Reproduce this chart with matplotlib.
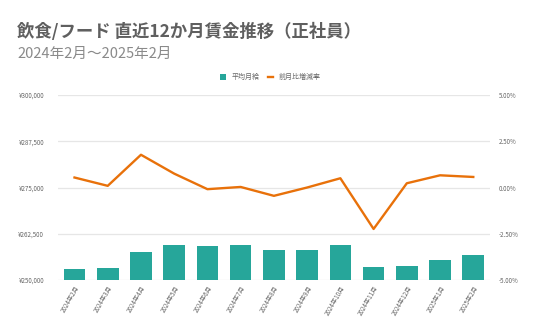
import matplotlib
matplotlib.use("Agg")
import matplotlib.pyplot as plt
from matplotlib.ticker import FuncFormatter
from matplotlib.lines import Line2D
from matplotlib.patches import Patch

plt.rcParams['font.family'] = ['Noto Sans CJK JP', 'DejaVu Sans']

months = ["2024年2月", "2024年3月", "2024年4月", "2024年5月", "2024年6月", "2024年7月",
          "2024年8月", "2024年9月", "2024年10月", "2024年11月", "2024年12月",
          "2025年1月", "2025年2月"]
avg_salary = [253050, 253240, 257650, 259540, 259190, 259370, 258020, 258020,
              259370, 253430, 253870, 255490, 256840]
mom_change = [0.54, 0.09, 1.77, 0.75, -0.09, 0.03, -0.45, 0.0, 0.50, -2.24, 0.23, 0.66, 0.57]

title = "飲食/フード 直近12か月賃金推移（正社員）"
subtitle = "2024年2月～2025年2月"

bar_color = "#26a69a"
line_color = "#e8710a"
grid_color = "#e6e6e6"
text_color = "#666666"

fig = plt.figure(figsize=(5.36, 3.31), dpi=100)
ax = fig.add_axes([0.108, 0.154, 0.806, 0.559])
ax2 = ax.twinx()

x = list(range(len(months)))
ax.bar(x, avg_salary, width=0.65, color=bar_color, zorder=2)
ax.set_ylim(250000, 300000)
ax.set_yticks([250000, 262500, 275000, 287500, 300000])
ax.yaxis.set_major_formatter(FuncFormatter(lambda v, p: f"¥{int(v):,}"))
ax.set_xlim(-0.5, len(months) - 0.5)
ax.set_xticks(x)
ax.set_xticklabels(months, rotation=60, ha="right", rotation_mode="anchor", fontsize=4.5, color=text_color)
ax.grid(axis="y", color=grid_color, linewidth=0.9, zorder=0)
ax.set_axisbelow(True)

ax2.plot(x, mom_change, color=line_color, linewidth=1.7, zorder=3)
ax2.set_ylim(-5, 5)
ax2.set_yticks([-5, -2.5, 0, 2.5, 5])
ax2.yaxis.set_major_formatter(FuncFormatter(lambda v, p: f"{v:.2f}%"))

for a in (ax, ax2):
    for s in a.spines.values():
        s.set_visible(False)
    a.tick_params(length=0, labelsize=4.5, labelcolor=text_color)
ax.tick_params(axis="y", pad=10)
ax2.tick_params(axis="y", pad=6.5)
ax.tick_params(axis="x", pad=3)

fig.text(0.032, 0.905, title, fontsize=12.5, fontweight="bold", color="#5f5f5f", ha="left", va="center")
fig.text(0.032, 0.836, subtitle, fontsize=10.5, color="#8a8a8a", ha="left", va="center")

handles = [Patch(facecolor=bar_color, edgecolor="none"),
           Line2D([0], [0], color=line_color, linewidth=1.7)]
fig.legend(handles, ["平均月給", "前月比増減率"], loc="center", bbox_to_anchor=(0.505, 0.766),
           ncol=2, frameon=False, fontsize=5, handlelength=0.8, handleheight=0.8,
           handletextpad=0.8, columnspacing=1.2, labelcolor=text_color)

fig.savefig("out.png", dpi=100)
